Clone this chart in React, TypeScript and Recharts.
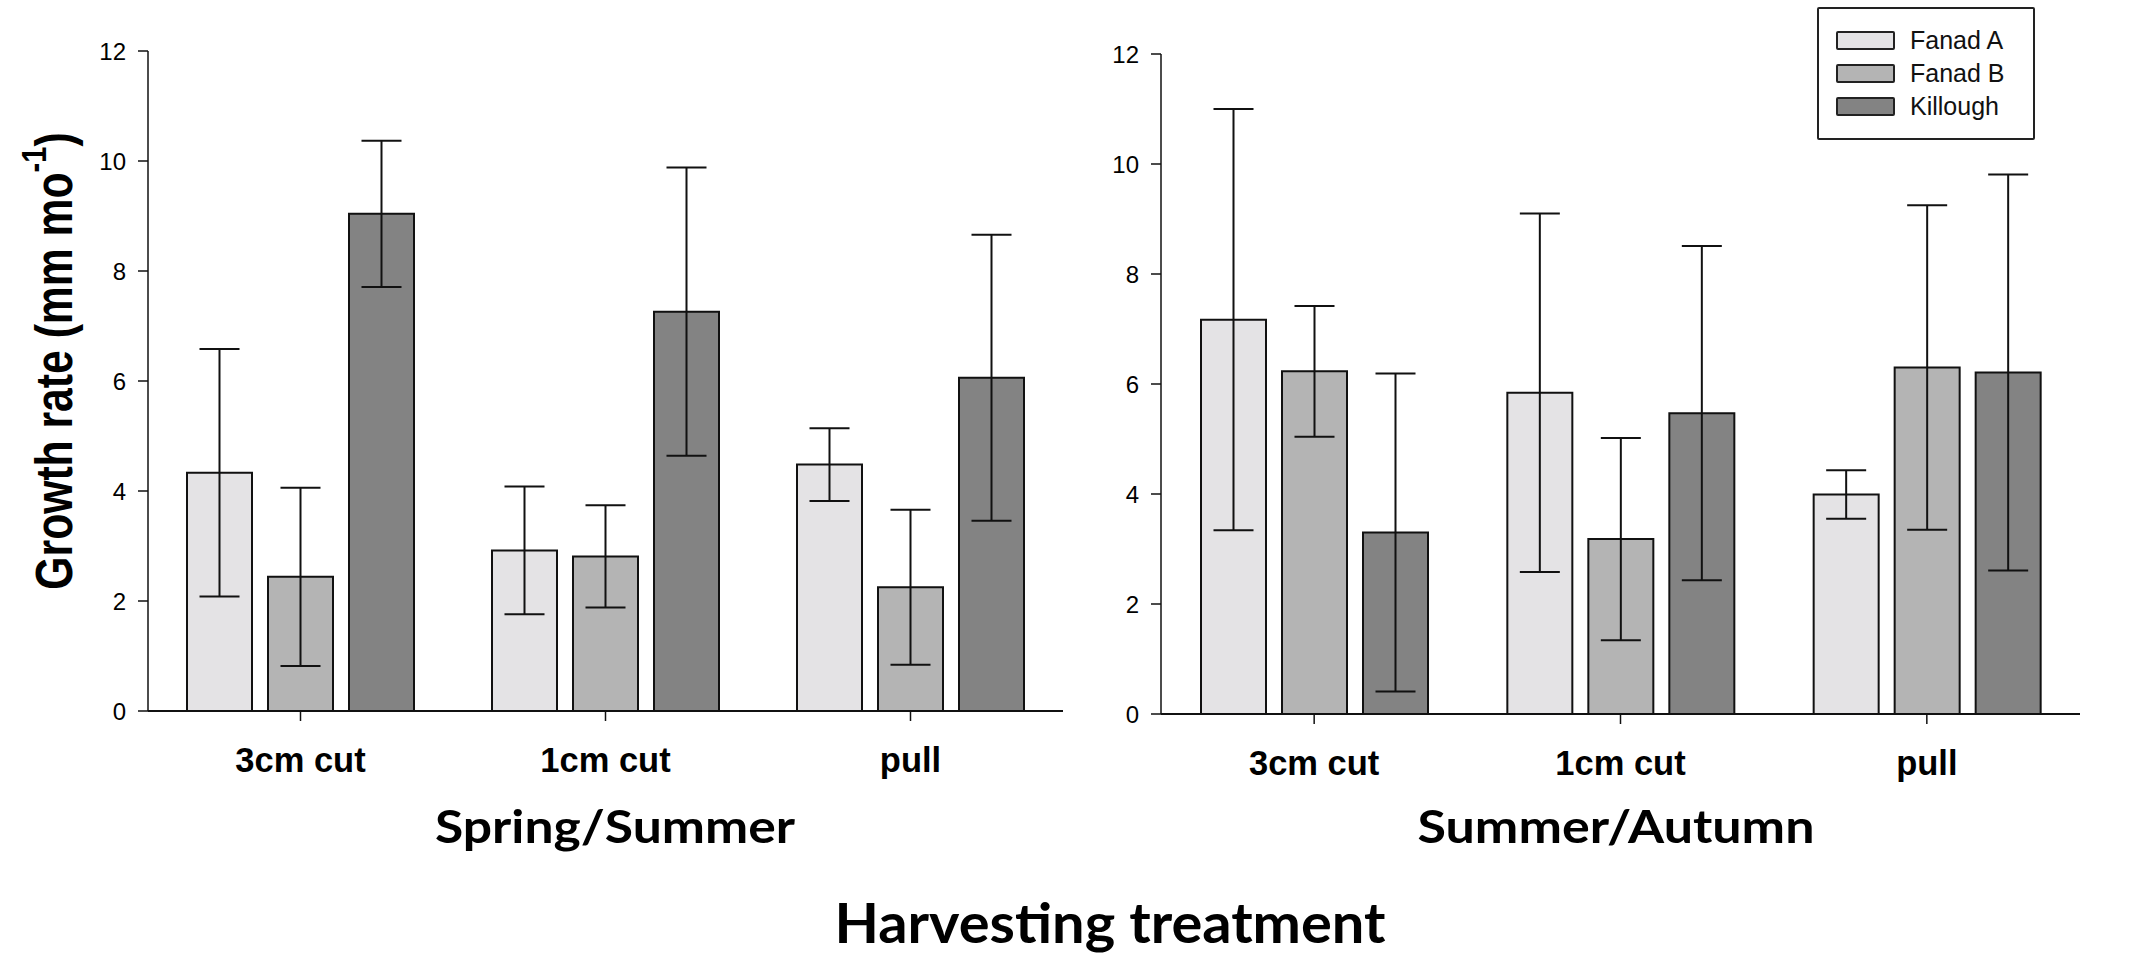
import React from 'react'
import { BarChart, Bar, XAxis, YAxis, ErrorBar } from 'recharts'

const categories = ['3cm cut', '1cm cut', 'pull']
const seriesNames = ['Fanad A', 'Fanad B', 'Killough']
const seriesColors = ['#e4e3e5', '#b4b4b4', '#838383']
const yTicks = [0, 2, 4, 6, 8, 10, 12]

// Spring/Summer means and error half-widths
const springFanadA = [4.33, 2.92, 4.48]
const springFanadAErr = [2.25, 1.16, 0.66]
const springFanadB = [2.44, 2.81, 2.25]
const springFanadBErr = [1.62, 0.93, 1.41]
const springKillough = [9.04, 7.26, 6.06]
const springKilloughErr = [1.33, 2.62, 2.6]

// Summer/Autumn
const summerFanadA = [7.17, 5.84, 3.99]
const summerFanadAErr = [3.83, 3.26, 0.44]
const summerFanadB = [6.23, 3.18, 6.3]
const summerFanadBErr = [1.19, 1.84, 2.95]
const summerKillough = [3.3, 5.47, 6.21]
const summerKilloughErr = [2.89, 3.04, 3.6]

const keys = ['a', 'b', 'k']

function buildRows(vals: number[][], errs: number[][]) {
  return categories.map((name, i) => {
    const row: any = { name }
    keys.forEach((k, s) => {
      row[k] = vals[s][i]
      row[k + 'Err'] = errs[s][i]
    })
    return row
  })
}

const springRows = buildRows(
  [springFanadA, springFanadB, springKillough],
  [springFanadAErr, springFanadBErr, springKilloughErr]
)
const summerRows = buildRows(
  [summerFanadA, summerFanadB, summerKillough],
  [summerFanadAErr, summerFanadBErr, summerKilloughErr]
)

const arial = '"Liberation Sans", Arial, sans-serif'
const calibri = 'Lato, "Open Sans", sans-serif'

const CatTick = (props: any) => {
  const { x, y, payload } = props
  return (
    <text x={x} y={y + 49} textAnchor="middle" fontFamily={arial} fontWeight="bold" fontSize={34.5} fill="#000">
      {payload.value}
    </text>
  )
}

function Panel({ data, left, margin }: { data: any[]; left: number; margin: any }) {
  return (
    <div style={{ position: 'absolute', left, top: 0 }}>
      <BarChart width={1090} height={800} data={data} margin={margin} barGap={16}>
        <XAxis
          dataKey="name"
          axisLine={{ stroke: '#111', strokeWidth: 2 }}
          tickLine={{ stroke: '#111', strokeWidth: 1.5 }}
          tickSize={10}
          height={60}
          tick={<CatTick />}
          interval={0}
        />
        <YAxis
          domain={[0, 12]}
          ticks={yTicks}
          width={60}
          tickSize={10}
          tickMargin={12}
          axisLine={{ stroke: '#111', strokeWidth: 1.5 }}
          tickLine={{ stroke: '#111', strokeWidth: 1.5 }}
          tick={{ fontFamily: arial, fontSize: 24, fill: '#000' }}
        />
        {keys.map((k, s) => (
          <Bar
            key={k}
            dataKey={k}
            name={seriesNames[s]}
            fill={seriesColors[s]}
            stroke="#111"
            strokeWidth={2}
            barSize={65}
            isAnimationActive={false}
          >
            <ErrorBar dataKey={k + 'Err'} width={20} stroke="#111" strokeWidth={2} direction="y" />
          </Bar>
        ))}
      </BarChart>
    </div>
  )
}

export default function App() {
  return (
    <div style={{ position: 'absolute', left: 0, top: 0, width: 2137, height: 959, background: '#fff' }}>
      <Panel data={springRows} left={0} margin={{ top: 51, right: 27, left: 88, bottom: 29 }} />
      <Panel data={summerRows} left={1050} margin={{ top: 54, right: 60, left: 51, bottom: 26 }} />

      <svg width={2137} height={959} style={{ position: 'absolute', left: 0, top: 0, pointerEvents: 'none' }}>
        <text
          transform="translate(72 361) rotate(-90) scale(0.97 1.17)"
          textAnchor="middle"
          fontFamily={arial}
          fontWeight="bold"
          fontSize={44}
          fill="#000"
        >
          Growth rate (mm mo
          <tspan dy={-22} fontSize={30}>-1</tspan>
          <tspan dy={22}>)</tspan>
        </text>
        <text x={615} y={843} textAnchor="middle" fontFamily={calibri} fontWeight="bold" fontSize={45} textLength={360} lengthAdjust="spacingAndGlyphs">
          Spring/Summer
        </text>
        <text x={1616} y={843} textAnchor="middle" fontFamily={calibri} fontWeight="bold" fontSize={45} textLength={397} lengthAdjust="spacingAndGlyphs">
          Summer/Autumn
        </text>
        <text x={1110} y={943} textAnchor="middle" fontFamily={calibri} fontWeight="bold" fontSize={56} textLength={551} lengthAdjust="spacingAndGlyphs">
          Harvesting treatment
        </text>
      </svg>

      <div
        style={{
          position: 'absolute',
          left: 1817,
          top: 7,
          width: 218,
          height: 133,
          boxSizing: 'border-box',
          border: '2px solid #222',
          borderRadius: 2,
          background: '#fff',
        }}
      >
        {seriesNames.map((n, i) => (
          <div key={n} style={{ position: 'absolute', left: 17, top: 22 + i * 33, height: 19, display: 'flex', alignItems: 'center' }}>
            <div style={{ width: 59, height: 19, boxSizing: 'border-box', border: '2px solid #222', borderRadius: 2, background: seriesColors[i] }} />
            <span style={{ marginLeft: 15, fontFamily: arial, fontSize: 25, color: '#111', lineHeight: '19px' }}>{n}</span>
          </div>
        ))}
      </div>
    </div>
  )
}
